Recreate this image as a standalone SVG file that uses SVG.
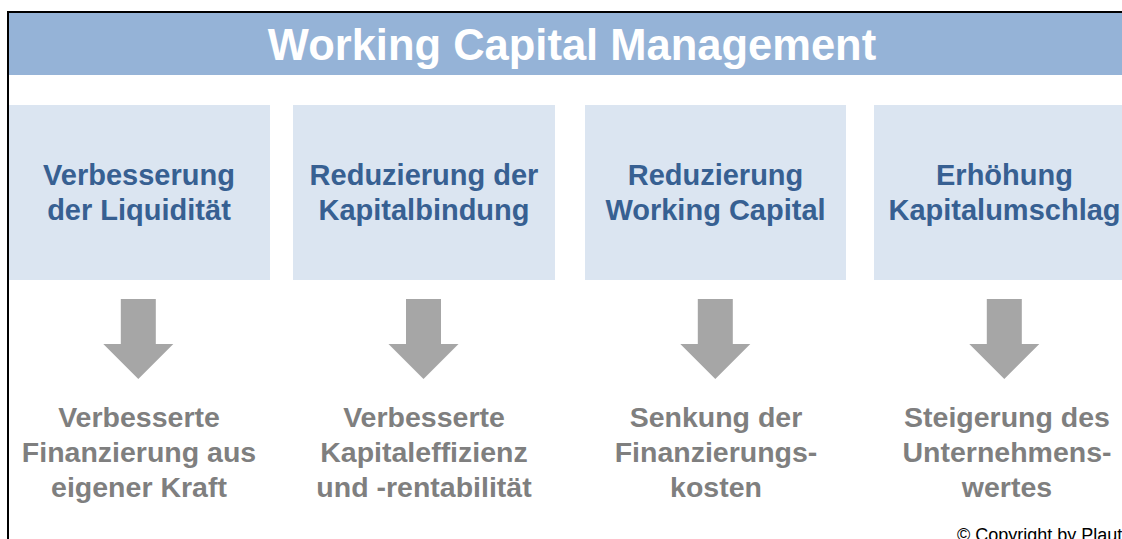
<svg xmlns="http://www.w3.org/2000/svg" width="1122" height="539" viewBox="0 0 1122 539">
  <style>
    .head { fill: #95B3D7; }
    .box { fill: #DBE5F1; }
    .title { font-family: "Liberation Sans", Arial, sans-serif; font-weight: bold; font-size: 43.5px; fill: #FFFFFF; text-anchor: middle; }
    .goal { font-family: "Liberation Sans", Arial, sans-serif; font-weight: bold; font-size: 29px; fill: #376092; text-anchor: middle; }
    .effect { font-family: "Liberation Sans", Arial, sans-serif; font-weight: bold; font-size: 28.5px; fill: #7F7F7F; text-anchor: middle; }
    .arrow { fill: #A6A6A6; }
    .note { font-family: "Liberation Sans", Arial, sans-serif; font-size: 18px; fill: #000000; }
  </style>
  <defs>
    <!-- block arrow pointing down, tip at origin -->
    <path id="down" d="M -17.5 -80 H 17.5 V -35 H 35 L 0 0 L -35 -35 H -17.5 Z"/>
  </defs>

  <rect width="1122" height="539" fill="#FFFFFF"/>

  <!-- title band -->
  <g id="header">
    <rect class="head" x="9" y="13" width="1113" height="62"/>
    <text class="title" x="572" y="59.5">Working Capital Management</text>
  </g>

  <!-- goal boxes -->
  <g id="goal1">
    <rect class="box" x="9" y="105" width="261" height="175"/>
    <text class="goal" x="139" y="185">Verbesserung</text>
    <text class="goal" x="139" y="220">der Liquidität</text>
  </g>
  <g id="goal2">
    <rect class="box" x="293" y="105" width="262" height="175"/>
    <text class="goal" x="424" y="185">Reduzierung der</text>
    <text class="goal" x="424" y="220">Kapitalbindung</text>
  </g>
  <g id="goal3">
    <rect class="box" x="585" y="105" width="261" height="175"/>
    <text class="goal" x="715.5" y="185">Reduzierung</text>
    <text class="goal" x="715.5" y="220">Working Capital</text>
  </g>
  <g id="goal4">
    <rect class="box" x="874" y="105" width="261" height="175"/>
    <text class="goal" x="1004.5" y="185">Erhöhung</text>
    <text class="goal" x="1004.5" y="220">Kapitalumschlag</text>
  </g>

  <!-- connectors -->
  <g id="connectors">
    <use href="#down" class="arrow" x="138.3" y="379"/>
    <use href="#down" class="arrow" x="423.5" y="379"/>
    <use href="#down" class="arrow" x="715.3" y="379"/>
    <use href="#down" class="arrow" x="1004.3" y="379"/>
  </g>

  <!-- effects -->
  <g id="effect1">
    <text class="effect" x="139" y="427">Verbesserte</text>
    <text class="effect" x="139" y="462">Finanzierung aus</text>
    <text class="effect" x="139" y="497">eigener Kraft</text>
  </g>
  <g id="effect2">
    <text class="effect" x="424" y="427">Verbesserte</text>
    <text class="effect" x="424" y="462">Kapitaleffizienz</text>
    <text class="effect" x="424" y="497">und -rentabilität</text>
  </g>
  <g id="effect3">
    <text class="effect" x="716" y="427">Senkung der</text>
    <text class="effect" x="716" y="462">Finanzierungs-</text>
    <text class="effect" x="716" y="497">kosten</text>
  </g>
  <g id="effect4">
    <text class="effect" x="1007" y="427">Steigerung des</text>
    <text class="effect" x="1007" y="462">Unternehmens-</text>
    <text class="effect" x="1007" y="497">wertes</text>
  </g>

  <text class="note" x="957" y="541">© Copyright by Plaut</text>

  <!-- frame -->
  <path d="M 8 545 V 12 H 1130" fill="none" stroke="#000000" stroke-width="2"/>
</svg>
